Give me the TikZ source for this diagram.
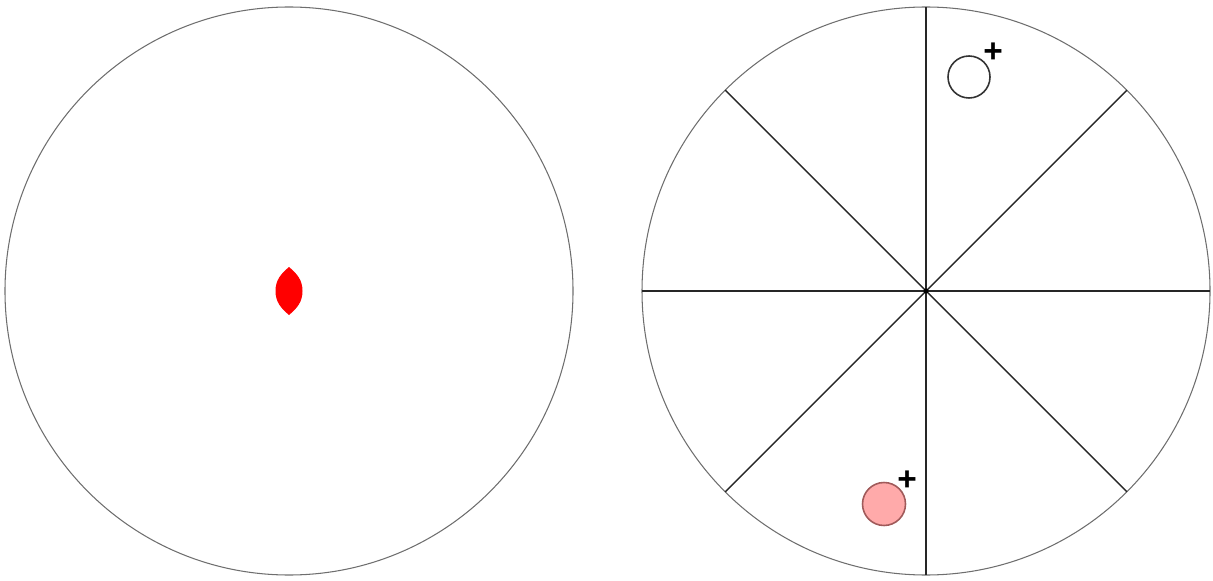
\documentclass[tikz,border=0pt]{standalone}
\usepackage{fontspec}
\setmainfont{Liberation Sans}
\usetikzlibrary{positioning, calc}
\definecolor{dkRim}{HTML}{6E6E6E}
\definecolor{dkSpoke}{HTML}{262626}
\definecolor{dkLens}{HTML}{FF0000}
\definecolor{dkProbe}{HTML}{FFAAAA}
\definecolor{dkProbeRim}{HTML}{A05A5A}
\tikzset{
  disc/.style={draw=dkRim, line width=0.6pt},
  spoke/.style={draw=dkSpoke, line width=0.8pt},
  lens/.style={fill=dkLens, draw=none},
  probe/.style={draw=black!80, line width=0.9pt},
  probehot/.style={probe, fill=dkProbe, draw=dkProbeRim},
  plusmark/.style={font=\fontsize{19}{19}\selectfont\bfseries, inner sep=0pt, text=black}
}

\begin{document}
\begin{tikzpicture}
  \useasboundingbox (0,0) rectangle (24.26,11.6);
  % left disc with the red lens
  \coordinate (lc) at (5.78,5.78);
  \draw[disc] (lc) circle (5.68);
  \coordinate (lensT) at (5.78,6.26);
  \coordinate (lensR) at (6.05,5.78);
  \coordinate (lensB) at (5.78,5.30);
  \coordinate (lensL) at (5.51,5.78);
  \fill[lens] (lensT) to[out=-40,in=90] (lensR) to[out=-90,in=40] (lensB)
    to[out=140,in=-90] (lensL) to[out=90,in=-140] (lensT) -- cycle;
  % right disc, cut into eight sectors
  \coordinate (rc) at (18.52,5.78);
  \draw[disc] (rc) circle (5.68);
  \foreach \a in {0,45,...,315}
    \draw[spoke] (rc) -- ++(\a:5.68);
  \fill[black] (rc) circle (0.05);
  % the two probes
  \draw[probe] (19.38,10.06) circle (0.42);
  \node[plusmark] (plusa) at (19.86,10.54) {+};
  \draw[probehot] (17.68,1.52) circle (0.43);
  \node[plusmark] (plusb) at (18.14,1.98) {+};
\end{tikzpicture}
\end{document}
